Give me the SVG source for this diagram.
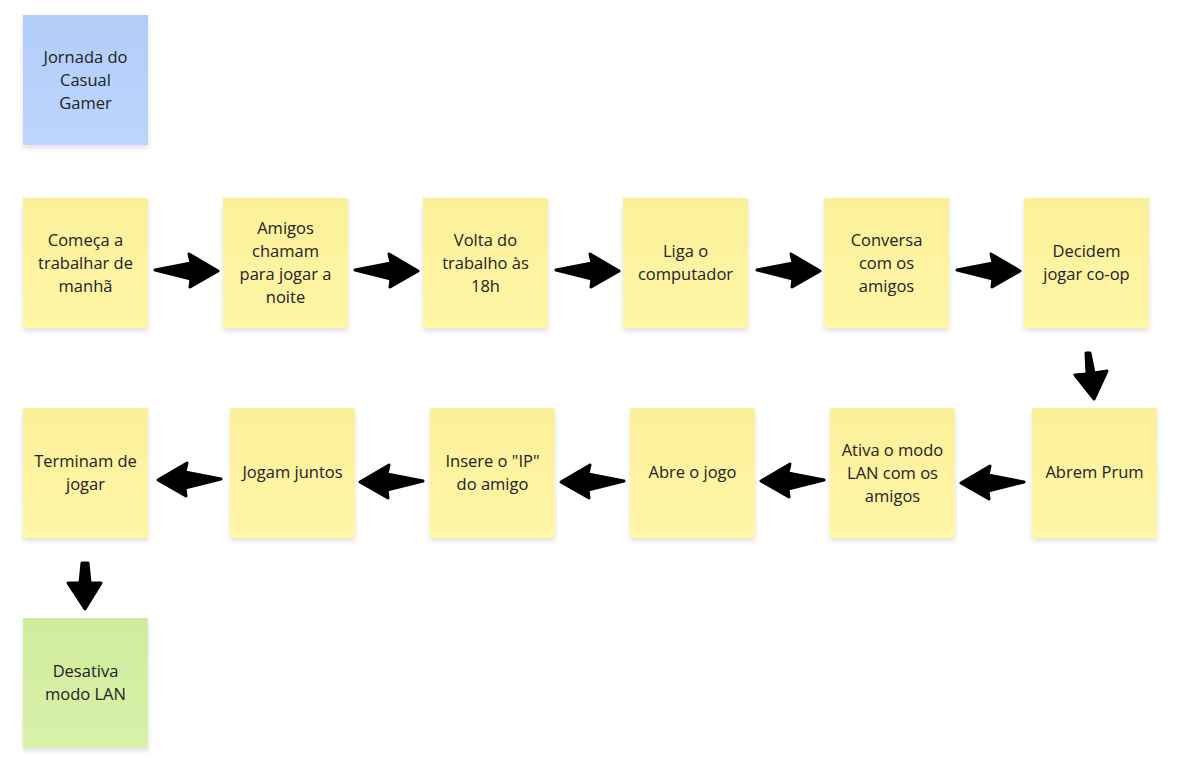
<svg xmlns="http://www.w3.org/2000/svg" width="1187" height="776" viewBox="0 0 1187 776">
<defs>
<filter id="sh" x="-20%" y="-20%" width="140%" height="140%">
<feDropShadow dx="0" dy="3" stdDeviation="2.5" flood-color="#000" flood-opacity="0.12"/>
</filter>
<linearGradient id="gy" x1="0" y1="0" x2="0" y2="1"><stop offset="0" stop-color="#fbf09a"/><stop offset="1" stop-color="#fff6a6"/></linearGradient>
<linearGradient id="gb" x1="0" y1="0" x2="0" y2="1"><stop offset="0" stop-color="#b3cdfa"/><stop offset="1" stop-color="#bcd5fc"/></linearGradient>
<linearGradient id="gg" x1="0" y1="0" x2="0" y2="1"><stop offset="0" stop-color="#cfec9c"/><stop offset="1" stop-color="#d9f1aa"/></linearGradient>
<path id="ar" d="M0,0 L36,-7 L34,-16 L63,1 L35,17 L36,9 Z"/>
</defs>
<style>
.n{filter:url(#sh)}
.y{fill:url(#gy)}
.b{fill:url(#gb)}
.g{fill:url(#gg)}
text{font-family:"Open Sans","Noto Sans",sans-serif;font-size:16.5px;fill:#222;text-anchor:middle;dominant-baseline:central}
.a{fill:#000;stroke:#000;stroke-width:3;stroke-linejoin:round}
</style>
<rect width="1187" height="776" fill="#fff"/>
<g id="n0"><rect class="n b" x="23" y="15" width="125" height="130"/><text><tspan x="85.5" y="56">Jornada do</tspan><tspan x="85.5" y="79">Casual</tspan><tspan x="85.5" y="102">Gamer</tspan></text></g>
<g id="n1"><rect class="n y" x="23" y="198" width="125" height="130"/><text><tspan x="85.5" y="239">Começa a</tspan><tspan x="85.5" y="262">trabalhar de</tspan><tspan x="85.5" y="285">manhã</tspan></text></g>
<g id="n2"><rect class="n y" x="223" y="198" width="125" height="130"/><text><tspan x="285.5" y="227">Amigos</tspan><tspan x="285.5" y="250">chamam</tspan><tspan x="285.5" y="273">para jogar a</tspan><tspan x="285.5" y="296">noite</tspan></text></g>
<g id="n3"><rect class="n y" x="423" y="198" width="125" height="130"/><text><tspan x="485.5" y="239">Volta do</tspan><tspan x="485.5" y="262">trabalho às</tspan><tspan x="485.5" y="285">18h</tspan></text></g>
<g id="n4"><rect class="n y" x="623" y="198" width="125" height="130"/><text><tspan x="685.5" y="250">Liga o</tspan><tspan x="685.5" y="273">computador</tspan></text></g>
<g id="n5"><rect class="n y" x="824" y="198" width="125" height="130"/><text><tspan x="886.5" y="239">Conversa</tspan><tspan x="886.5" y="262">com os</tspan><tspan x="886.5" y="285">amigos</tspan></text></g>
<g id="n6"><rect class="n y" x="1024" y="198" width="125" height="130"/><text><tspan x="1086.5" y="250">Decidem</tspan><tspan x="1086.5" y="273">jogar co-op</tspan></text></g>
<g id="n7"><rect class="n y" x="1032" y="408" width="125" height="130"/><text><tspan x="1094.5" y="471">Abrem Prum</tspan></text></g>
<g id="n8"><rect class="n y" x="830" y="408" width="125" height="130"/><text><tspan x="892.5" y="449">Ativa o modo</tspan><tspan x="892.5" y="472">LAN com os</tspan><tspan x="892.5" y="495">amigos</tspan></text></g>
<g id="n9"><rect class="n y" x="630" y="408" width="125" height="130"/><text><tspan x="692.5" y="471">Abre o jogo</tspan></text></g>
<g id="n10"><rect class="n y" x="430" y="408" width="125" height="130"/><text><tspan x="492.5" y="460">Insere o "IP"</tspan><tspan x="492.5" y="483">do amigo</tspan></text></g>
<g id="n11"><rect class="n y" x="230" y="408" width="125" height="130"/><text><tspan x="292.5" y="471">Jogam juntos</tspan></text></g>
<g id="n12"><rect class="n y" x="23" y="408" width="125" height="130"/><text><tspan x="85.5" y="460">Terminam de</tspan><tspan x="85.5" y="483">jogar</tspan></text></g>
<g id="n13"><rect class="n g" x="23" y="618" width="125" height="130"/><text><tspan x="85.5" y="670">Desativa</tspan><tspan x="85.5" y="693">modo LAN</tspan></text></g>
<g id="connectors">
<use href="#ar" class="a" transform="translate(155,270)"/>
<use href="#ar" class="a" transform="translate(355,270)"/>
<use href="#ar" class="a" transform="translate(556,270)"/>
<use href="#ar" class="a" transform="translate(757,270)"/>
<use href="#ar" class="a" transform="translate(957,270)"/>
<path class="a" d="M1086,353 L1090,353 L1094,373 L1107,371 L1094,399 L1075,375 L1087,374 Z"/>
<use href="#ar" class="a" transform="translate(1024,482) scale(-1,1)"/>
<use href="#ar" class="a" transform="translate(824,480) scale(-1,1)"/>
<use href="#ar" class="a" transform="translate(624,481) scale(-1,1)"/>
<use href="#ar" class="a" transform="translate(423,481) scale(-1,1)"/>
<use href="#ar" class="a" transform="translate(221,479) scale(-1,1)"/>
<path class="a" d="M82,563 L88,563 L90,583 L101,583 L85,609 L68,583 L80,583 Z"/>
</g>
</svg>
